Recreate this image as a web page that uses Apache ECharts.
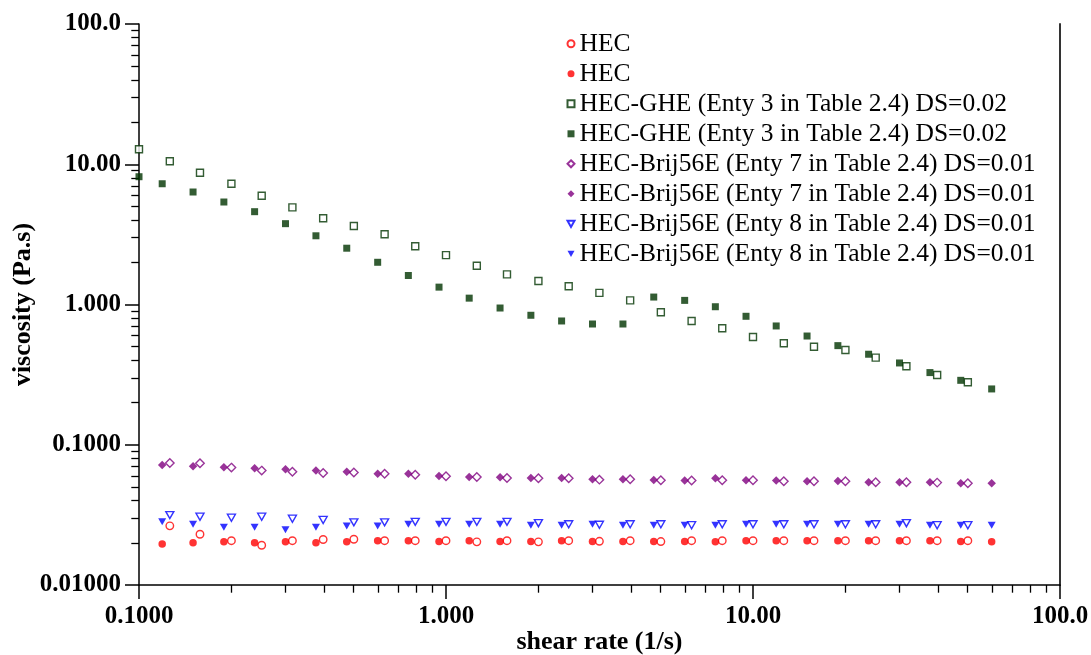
<!DOCTYPE html>
<html>
<head>
<meta charset="utf-8">
<script src="https://cdn.jsdelivr.net/npm/echarts@6/dist/echarts.min.js"></script>
<style>
html,body{margin:0;padding:0;background:#fff;}
#chart{width:1091px;height:655px;}
</style>
</head>
<body>
<div id="chart"></div>
<script>
// shear-rate grids (1/s)
const shearOpen = [0.1, 0.126, 0.158, 0.2, 0.251, 0.316, 0.398, 0.501, 0.631, 0.794, 1.0, 1.26, 1.58, 2.0, 2.51, 3.16, 3.98, 5.01, 6.31, 7.94, 10.0, 12.6, 15.8, 20.0, 25.1, 31.6, 39.8, 50.1];
const shearOpenLow = [0.126, 0.158, 0.2, 0.251, 0.316, 0.398, 0.501, 0.631, 0.794, 1.0, 1.26, 1.58, 2.0, 2.51, 3.16, 3.98, 5.01, 6.31, 7.94, 10.0, 12.6, 15.8, 20.0, 25.1, 31.6, 39.8, 50.1];
const shearFilled = [0.119, 0.15, 0.189, 0.238, 0.3, 0.377, 0.475, 0.599, 0.754, 0.949, 1.19, 1.5, 1.89, 2.38, 3.0, 3.77, 4.75, 5.99, 7.54, 9.49, 11.9, 15.0, 18.9, 23.8, 30.0, 37.7, 47.5, 59.9];
const shearGheFilled = [0.1, 0.119, 0.15, 0.189, 0.238, 0.3, 0.377, 0.475, 0.599, 0.754, 0.949, 1.19, 1.5, 1.89, 2.38, 3.0, 3.77, 4.75, 5.99, 7.54, 9.49, 11.9, 15.0, 18.9, 23.8, 30.0, 37.7, 47.5, 59.9];

// viscosity values (Pa.s)
const hecOpen = [0.0264, 0.0230, 0.0207, 0.0192, 0.0207, 0.0211, 0.0212, 0.0207, 0.0207, 0.0207, 0.0203, 0.0207, 0.0203, 0.0207, 0.0205, 0.0207, 0.0204, 0.0207, 0.0207, 0.0207, 0.0207, 0.0207, 0.0207, 0.0207, 0.0207, 0.0207, 0.0207];
const hecFilled = [0.0196, 0.0200, 0.0203, 0.0200, 0.0203, 0.0200, 0.0203, 0.0207, 0.0207, 0.0204, 0.0207, 0.0204, 0.0204, 0.0207, 0.0204, 0.0204, 0.0204, 0.0204, 0.0203, 0.0207, 0.0207, 0.0207, 0.0207, 0.0207, 0.0207, 0.0207, 0.0204, 0.0203];
const gheOpen = [12.8, 10.5, 8.70, 7.26, 5.96, 4.93, 4.12, 3.63, 3.17, 2.60, 2.25, 1.89, 1.64, 1.47, 1.35, 1.21, 1.07, 0.880, 0.763, 0.677, 0.587, 0.529, 0.500, 0.474, 0.418, 0.363, 0.314, 0.279];
const gheFilled = [8.15, 7.26, 6.34, 5.38, 4.59, 3.77, 3.09, 2.52, 2.00, 1.61, 1.33, 1.11, 0.944, 0.838, 0.763, 0.726, 0.726, 1.13, 1.07, 0.964, 0.824, 0.703, 0.596, 0.509, 0.442, 0.383, 0.327, 0.288, 0.250];
const brij7Open = [0.0742, 0.0738, 0.0687, 0.0654, 0.0643, 0.0630, 0.0633, 0.0622, 0.0612, 0.0596, 0.0590, 0.0580, 0.0577, 0.0577, 0.0564, 0.0568, 0.0558, 0.0555, 0.0558, 0.0558, 0.0549, 0.0549, 0.0549, 0.0540, 0.0540, 0.0537, 0.0532];
const brij7Filled = [0.0718, 0.0703, 0.0691, 0.0680, 0.0669, 0.0654, 0.0643, 0.0622, 0.0622, 0.0599, 0.0590, 0.0587, 0.0580, 0.0580, 0.0568, 0.0568, 0.0561, 0.0555, 0.0577, 0.0558, 0.0555, 0.0549, 0.0552, 0.0540, 0.0540, 0.0540, 0.0532, 0.0532];
const brij8Open = [0.0315, 0.0307, 0.0302, 0.0307, 0.0297, 0.0291, 0.0280, 0.0280, 0.0282, 0.0282, 0.0282, 0.0282, 0.0276, 0.0271, 0.0269, 0.0271, 0.0271, 0.0267, 0.0271, 0.0271, 0.0271, 0.0271, 0.0271, 0.0271, 0.0276, 0.0267, 0.0267];
const brij8Filled = [0.0282, 0.0271, 0.0258, 0.0258, 0.0248, 0.0258, 0.0263, 0.0263, 0.0271, 0.0271, 0.0271, 0.0271, 0.0267, 0.0267, 0.0271, 0.0267, 0.0267, 0.0267, 0.0267, 0.0271, 0.0271, 0.0271, 0.0271, 0.0271, 0.0271, 0.0267, 0.0267, 0.0267];

const seriesNames = [
  'HEC',
  'HEC',
  'HEC-GHE (Enty 3 in Table 2.4) DS=0.02',
  'HEC-GHE (Enty 3 in Table 2.4) DS=0.02',
  'HEC-Brij56E (Enty 7 in Table 2.4) DS=0.01',
  'HEC-Brij56E (Enty 7 in Table 2.4) DS=0.01',
  'HEC-Brij56E (Enty 8 in Table 2.4) DS=0.01',
  'HEC-Brij56E (Enty 8 in Table 2.4) DS=0.01'
];

function pairs(xs, ys) { return ys.map((y, i) => [xs[i], y]); }

const FONT = '"Liberation Serif", "Times New Roman", serif';
const downTri = 'path://M0,0 L10,0 L5,9 Z';
const RED = '#ff0000', GREEN = '#003300', PURPLE = '#800080', BLUE = '#0000ff';

function openStyle(c) { return { color: '#ffffff', borderColor: c, borderWidth: 1.4 }; }
function fillStyle(c) { return { color: c, borderWidth: 0 }; }

const specs = [
  { xs: shearOpenLow, ys: hecOpen, symbol: 'circle', size: 7.5, style: openStyle(RED) },
  { xs: shearFilled, ys: hecFilled, symbol: 'circle', size: 7.5, style: fillStyle(RED) },
  { xs: shearOpen, ys: gheOpen, symbol: 'rect', size: 7, style: openStyle(GREEN) },
  { xs: shearGheFilled, ys: gheFilled, symbol: 'rect', size: 7, style: fillStyle(GREEN) },
  { xs: shearOpenLow, ys: brij7Open, symbol: 'diamond', size: 8.5, style: openStyle(PURPLE) },
  { xs: shearFilled, ys: brij7Filled, symbol: 'diamond', size: 8.5, style: fillStyle(PURPLE) },
  { xs: shearOpenLow, ys: brij8Open, symbol: downTri, size: [8, 7], style: openStyle(BLUE) },
  { xs: shearFilled, ys: brij8Filled, symbol: downTri, size: [8, 7], style: fillStyle(BLUE) }
];

const series = specs.map((s, i) => ({
  name: seriesNames[i] + '#' + i,
  type: 'scatter',
  data: pairs(s.xs, s.ys),
  symbol: s.symbol,
  symbolSize: s.size,
  itemStyle: s.style,
  xAxisIndex: 0,
  yAxisIndex: 0,
  animation: false,
  z: 2 + i
}));

const tickFmt = v => Number(v).toPrecision(4);

const option = {
  backgroundColor: '#ffffff',
  animation: false,
  grid: { left: 139, right: 31, top: 24, bottom: 70, containLabel: false, outerBoundsMode: 'none' },
  legend: {
    orient: 'vertical',
    left: 561.5,
    top: 25.8,
    padding: 5,
    itemWidth: 7,
    itemHeight: 7,
    itemGap: 4.0,
    selectedMode: false,
    formatter: name => name.split('#')[0],
    textStyle: { fontFamily: FONT, fontSize: 25.5, color: '#000', lineHeight: 25 },
    data: series.map(s => s.name)
  },
  xAxis: {
    type: 'log',
    logBase: 10,
    min: 0.1,
    max: 100,
    name: 'shear rate (1/s)',
    nameLocation: 'middle',
    nameGap: 44,
    nameMoveOverlap: false,
    nameTextStyle: { fontFamily: FONT, fontSize: 26, fontWeight: 'bold', color: '#000' },
    axisLine: { show: true, onZero: false, lineStyle: { color: '#000', width: 1.5 } },
    axisTick: { show: true, inside: false, length: 14, lineStyle: { color: '#000', width: 1.5 } },
    minorTick: { show: true, splitNumber: 9, length: 7.7, lineStyle: { color: '#000', width: 1.3 } },
    axisLabel: { formatter: tickFmt, fontFamily: FONT, fontSize: 25, fontWeight: 'bold', color: '#000', margin: 19 },
    splitLine: { show: false },
    minorSplitLine: { show: false }
  },
  yAxis: [{
    type: 'log',
    logBase: 10,
    min: 0.01,
    max: 100,
    name: 'viscosity (Pa.s)',
    nameLocation: 'middle',
    nameGap: 103,
    nameMoveOverlap: false,
    nameTextStyle: { fontFamily: FONT, fontSize: 26, fontWeight: 'bold', color: '#000' },
    axisLine: { show: true, onZero: false, lineStyle: { color: '#000', width: 1.5 } },
    axisTick: { show: true, inside: false, length: 14, lineStyle: { color: '#000', width: 1.5 } },
    minorTick: { show: true, splitNumber: 9, length: 7.7, lineStyle: { color: '#000', width: 1.3 } },
    axisLabel: { formatter: tickFmt, fontFamily: FONT, fontSize: 25, fontWeight: 'bold', color: '#000', margin: 18 },
    splitLine: { show: false },
    minorSplitLine: { show: false }
  }, {
    type: 'log',
    logBase: 10,
    min: 0.01,
    max: 100,
    position: 'right',
    axisLine: { show: true, onZero: false, lineStyle: { color: '#333', width: 2 } },
    axisTick: { show: false },
    axisLabel: { show: false },
    splitLine: { show: false }
  }],
  series: series
};

const chart = echarts.init(document.getElementById('chart'), null, { renderer: 'canvas' });
chart.setOption(option);
</script>
</body>
</html>
